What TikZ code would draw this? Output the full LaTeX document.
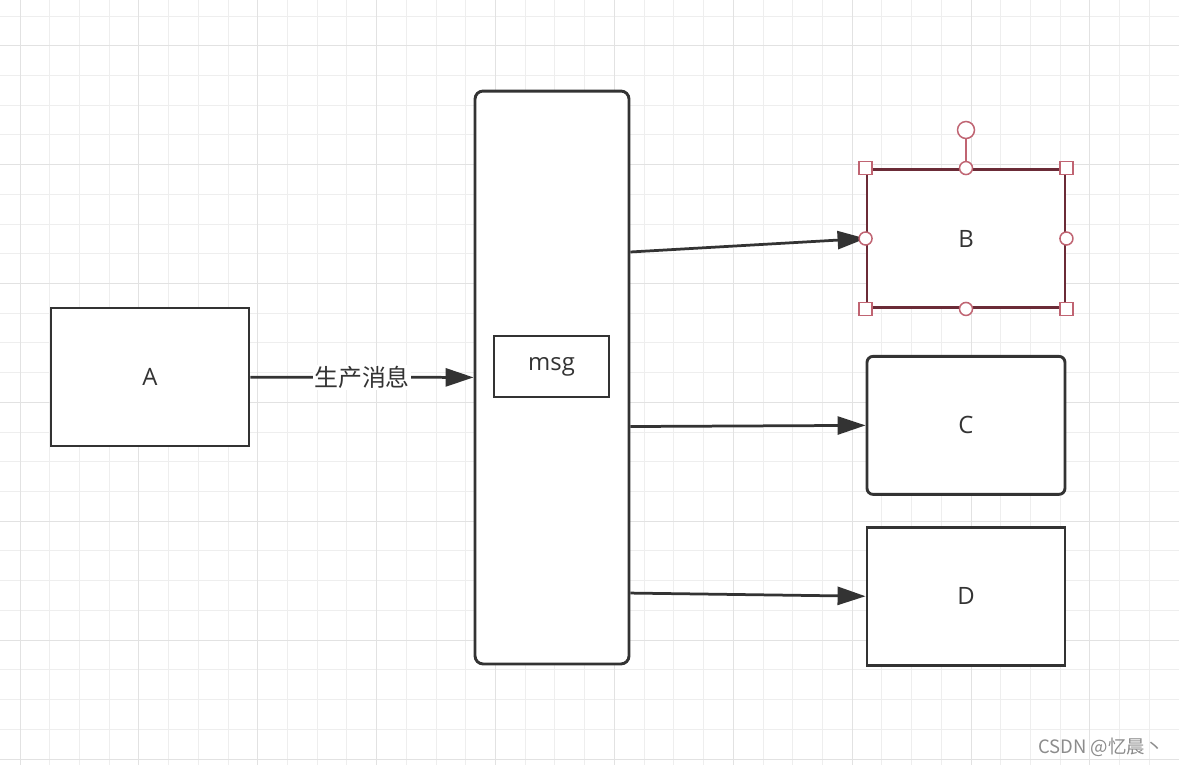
\documentclass[tikz,border=0pt]{standalone}
\usepackage{fontspec}
\setmainfont{Open Sans}
\newfontfamily\cjk{Noto Sans CJK SC}
\usepackage{xcolor}
\usepackage{tikz}
\usetikzlibrary{arrows.meta,positioning}
\definecolor{ink}{HTML}{333333}
\definecolor{gridmin}{HTML}{EEEEEE}
\definecolor{gridmaj}{HTML}{E2E2E2}
\definecolor{selred}{HTML}{6B2B37}
\definecolor{handle}{HTML}{C06472}
\definecolor{wmgray}{HTML}{8C8C8C}
\begin{document}
\begin{tikzpicture}[x=0.02cm, y=-0.02cm, >={Triangle[length=0.56cm,width=0.36cm]}, node distance=0.92cm,
  box/.style={draw=ink, fill=white, line width=0.058cm, minimum width=3.96cm, minimum height=2.76cm, text=ink, font=\fontsize{13.6}{16}\selectfont},
  rbox/.style={box, rounded corners=0.12cm},
  arr/.style={->, draw=ink, line width=0.055cm},
  hsq/.style={draw=handle, fill=white, line width=0.03cm, minimum size=0.26cm, inner sep=0pt},
  hci/.style={hsq, circle}]
  \useasboundingbox (0,0) rectangle (1179,765);
  \fill[white] (0,0) rectangle (1179,765);
  \foreach \i in {0,...,39}{\pgfmathsetmacro\gx{20+29.72*\i}\draw[gridmin, line width=0.02cm] (\gx,0) -- (\gx,765);}
  \foreach \i in {0,...,25}{\pgfmathsetmacro\gy{16+29.72*\i}\draw[gridmin, line width=0.02cm] (0,\gy) -- (1179,\gy);}
  \foreach \i in {0,4,...,36}{\pgfmathsetmacro\gx{20+29.72*\i}\draw[gridmaj, line width=0.02cm] (\gx,0) -- (\gx,765);}
  \foreach \i in {1,5,...,25}{\pgfmathsetmacro\gy{16+29.72*\i}\draw[gridmaj, line width=0.02cm] (0,\gy) -- (1179,\gy);}

  \node[box](A) at (150,377){A};
  \node[rbox, minimum width=3.08cm, minimum height=11.46cm, rounded corners=0.16cm](Q) at (552,377.5){};
  \node[box, minimum width=2.3cm, minimum height=1.22cm](msg) at (551.5,366.5){msg};
  \node[box, draw=selred](B) at (966,238.5){B};
  \node[rbox, below=of B](C){C};
  \node[box, below=0.6cm of C](D){D};

  \draw[arr](A) -- node[fill=white, inner sep=0.03cm, text=ink, font=\cjk\fontsize{13.6}{16}\selectfont](lbl){生产消息} (Q);
  \draw[arr](Q.58.7) -- (B.west);
  \draw[arr](Q.-32.3) -- (C.west);
  \draw[arr](Q.-70.3) -- (D.west);

  \node[hci, minimum size=0.34cm](rot) at (966,130){};
  \foreach \p/\n in {north west/nw,north east/ne,south west/sw,south east/se}{\node[hsq](h\n) at (B.\p){};}
  \foreach \p/\n in {north/n,south/s,west/w,east/e}{\node[hci](h\n) at (B.\p){};}
  \draw[handle, line width=0.03cm](rot) -- (hn);

  \node[text=wmgray, font=\cjk\fontsize{10.5}{12}\selectfont](wm) at (1101,747){CSDN @忆晨丶};
\end{tikzpicture}
\end{document}
